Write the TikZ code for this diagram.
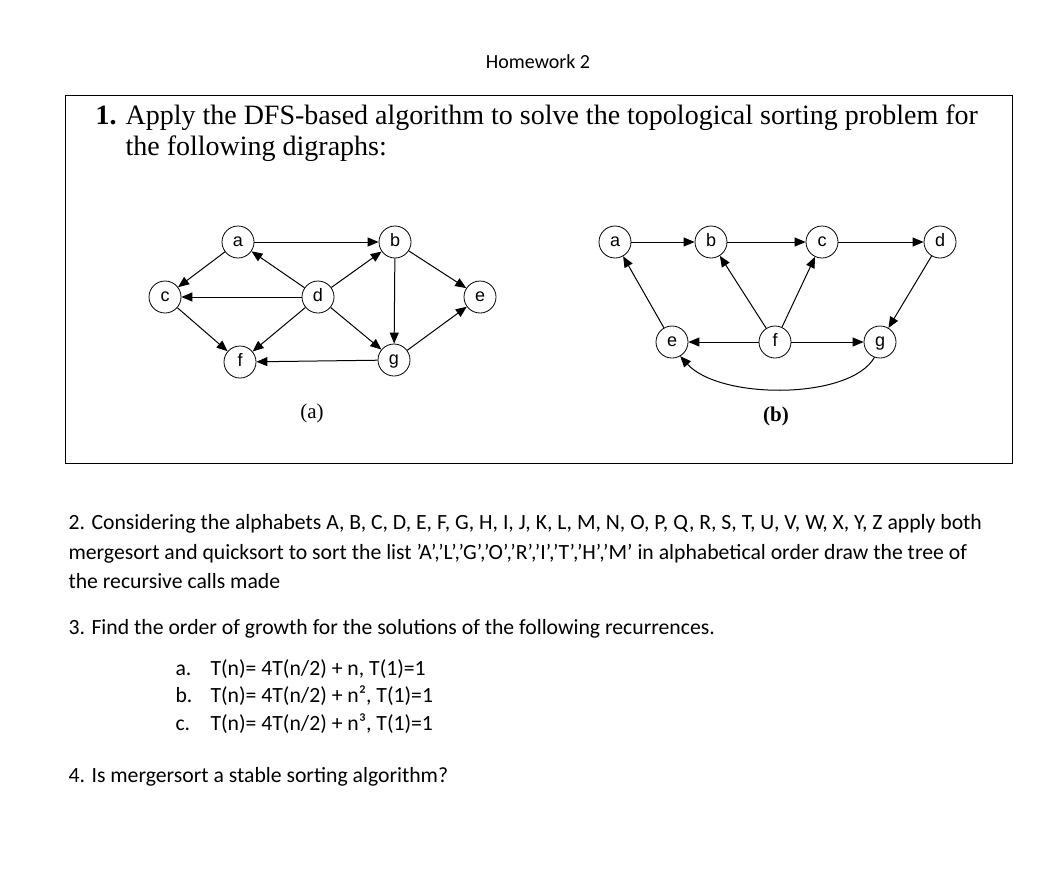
\documentclass[tikz,border=0pt]{standalone}
\usepackage{fontspec}
\setmainfont{Carlito}
\newfontfamily\tnr{Liberation Serif}
\newfontfamily\arl{Liberation Sans}
\usetikzlibrary{arrows.meta}
\begin{document}
\begin{tikzpicture}[x=1pt,y=-1pt,
  vtx/.style={circle,draw,line width=0.8pt,minimum size=32pt,inner sep=0pt,text height=9pt,text depth=0pt,font=\arl\fontsize{18}{18}\selectfont},
  edge/.style={-{Triangle[length=11pt,width=9pt]},line width=1pt},
  body/.style={anchor=base west,font=\fontsize{21.7}{24}\selectfont}]
\useasboundingbox (0,0) rectangle (1057,891);
\node[font=\fontsize{20}{22}\selectfont,anchor=base] (hw) at (538,69) {Homework 2};
\draw[line width=0.8pt] (65,95) rectangle (1012,463);
\node[anchor=base west,font=\tnr\fontsize{28}{30}\selectfont] (q1) at (92,124) {\textbf{1.}};
\node[anchor=base west,font=\tnr\fontsize{28}{30}\selectfont] (q1t) at (122,124) {Apply the DFS-based algorithm to solve the topological sorting problem for};
\node[anchor=base west,font=\tnr\fontsize{28}{30}\selectfont] (q1u) at (122,155) {the following digraphs:};
% graph a
\node[vtx] (a) at (238,242) {a};
\node[vtx] (b) at (395,242) {b};
\node[vtx] (c) at (165,297) {c};
\node[vtx] (d) at (318,297) {d};
\node[vtx] (e) at (480,297) {e};
\node[vtx] (f) at (240,362) {f};
\node[vtx] (g) at (394,360) {g};
\draw[edge] (a) -- (b);
\draw[edge] (a) -- (c);
\draw[edge] (d) -- (a);
\draw[edge] (d) -- (b);
\draw[edge] (d) -- (c);
\draw[edge] (d) -- (f);
\draw[edge] (d) -- (g);
\draw[edge] (c) -- (f);
\draw[edge] (b) -- (g);
\draw[edge] (b) -- (e);
\draw[edge] (g) -- (e);
\draw[edge] (g) -- (f);
\node[font=\tnr\fontsize{21}{22}\selectfont] (la) at (312,413) {(a)};
% graph b
\node[vtx] (ba) at (615,242) {a};
\node[vtx] (bb) at (711,242) {b};
\node[vtx] (bc) at (822,242) {c};
\node[vtx] (bd) at (940,242) {d};
\node[vtx] (be) at (672,342) {e};
\node[vtx] (bf) at (775,342) {f};
\node[vtx] (bg) at (880,342) {g};
\draw[edge] (ba) -- (bb);
\draw[edge] (bb) -- (bc);
\draw[edge] (bc) -- (bd);
\draw[edge] (be) -- (ba);
\draw[edge] (bf) -- (bb);
\draw[edge] (bf) -- (bc);
\draw[edge] (bf) -- (be);
\draw[edge] (bf) -- (bg);
\draw[edge] (bd) -- (bg);
\draw[edge] (bg.-110) .. controls (850,400) and (720,400) .. (be.-60);
\node[font=\tnr\fontsize{21}{22}\selectfont] (lb) at (776,416) {\textbf{(b)}};
% text
\node[body] (t2a) at (65,529) {2. Considering the alphabets A, B, C, D, E, F, G, H, I, J, K, L, M, N, O, P, Q, R, S, T, U, V, W, X, Y, Z apply both};
\node[body] (t2b) at (65,559) {mergesort and quicksort to sort the list ’A’,’L’,’G’,’O’,’R’,’I’,’T’,’H’,’M’ in alphabetical order draw the tree of};
\node[body] (t2c) at (65,588) {the recursive calls made};
\node[body] (t3) at (65,634) {3. Find the order of growth for the solutions of the following recurrences.};
\node[body] (ia) at (172,675) {a.};
\node[body] (ta) at (207,675) {T(n)= 4T(n/2) + n, T(1)=1};
\node[body] (ib) at (172,702) {b.};
\node[body] (tb) at (207,702) {T(n)= 4T(n/2) + n², T(1)=1};
\node[body] (ic) at (172,730) {c.};
\node[body] (tc) at (207,730) {T(n)= 4T(n/2) + n³, T(1)=1};
\node[body] (t4) at (65,782) {4. Is mergersort a stable sorting algorithm?};
\end{tikzpicture}
\end{document}
